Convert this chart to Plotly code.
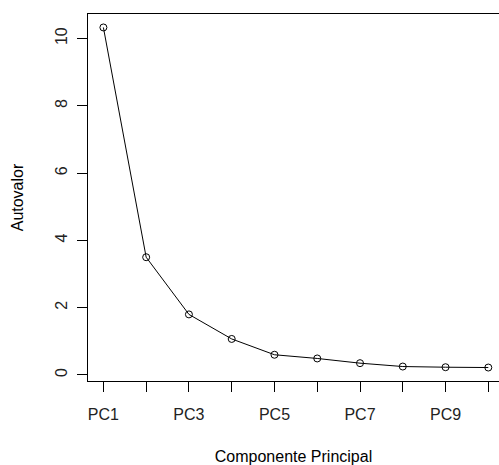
import plotly.graph_objects as go

categories = ["PC1", "PC2", "PC3", "PC4", "PC5", "PC6", "PC7", "PC8", "PC9", "PC10"]
eigenvalues = [10.33, 3.50, 1.80, 1.07, 0.60, 0.49, 0.35, 0.25, 0.23, 0.22]
x_tick_labels = ["PC1", "", "PC3", "", "PC5", "", "PC7", "", "PC9", ""]
y_tick_values = [0, 2, 4, 6, 8, 10]

FONT = "Liberation Sans, Arial, sans-serif"

fig = go.Figure()
fig.add_trace(go.Scatter(
    x=categories, y=eigenvalues, mode="lines+markers",
    line=dict(color="black", width=1),
    marker=dict(symbol="circle-open", size=7, color="black", line=dict(width=1)),
    showlegend=False,
))

fig.update_layout(
    width=499, height=465,
    margin=dict(l=88, r=0, t=14, b=84),
    paper_bgcolor="white", plot_bgcolor="white",
    font=dict(family=FONT, size=16, color="black"),
    xaxis=dict(
        type="category", range=[-0.36, 9.25],
        tickvals=categories, ticktext=x_tick_labels,
        showline=True, mirror=True, linecolor="black", linewidth=1,
        ticks="outside", ticklen=10, tickcolor="black", tickwidth=1,
        showgrid=False, zeroline=False, ticklabelstandoff=9,
        title=dict(text="Componente Principal", standoff=28, font=dict(size=16)),
        tickfont=dict(size=16, color="#222"),
    ),
    yaxis=dict(
        range=[-0.18, 10.73],
        tickvals=y_tick_values,
        showline=True, mirror=False, linecolor="black", linewidth=1,
        ticks="outside", ticklen=10, tickcolor="black", tickwidth=1,
        showgrid=False, zeroline=False, tickangle=-90, ticklabelstandoff=4,
        title=dict(text="Autovalor", standoff=24, font=dict(size=16)),
        tickfont=dict(size=16, color="#222"),
    ),
)

fig.write_html("out.html", config={"displayModeBar": False},
               post_script="document.body.style.margin='0';")
